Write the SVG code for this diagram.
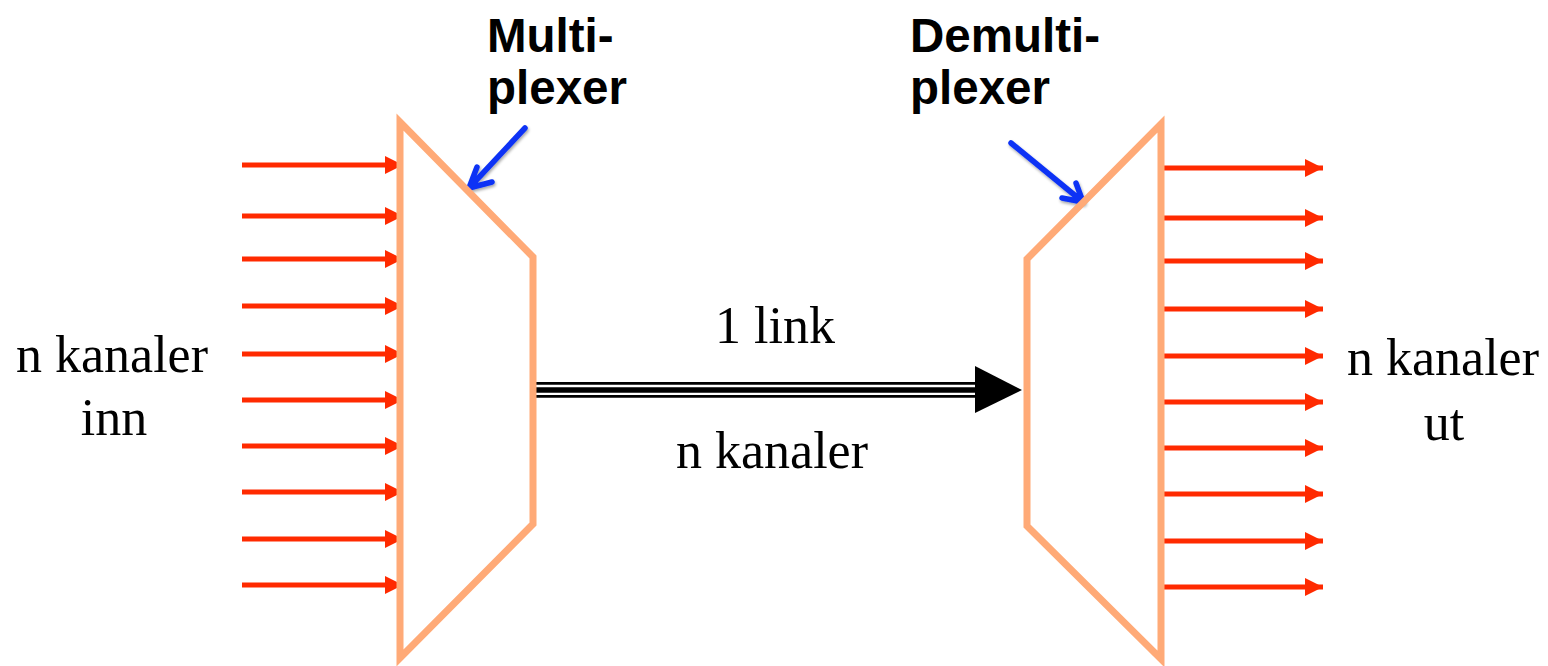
<svg xmlns="http://www.w3.org/2000/svg" width="1548" height="666" viewBox="0 0 1548 666">
<style>
.red{stroke:#FF2A00;stroke-width:5;fill:none}
.trap{stroke:#FFAA77;stroke-width:7;fill:none;stroke-linejoin:miter}
.blue{stroke:#0A32F5;stroke-width:5.5;fill:none;stroke-linecap:round;stroke-linejoin:round}
.serif{font-family:"Liberation Serif","Times New Roman",serif;font-size:52px;fill:#000}
.bold{font-family:"Liberation Sans",Arial,sans-serif;font-size:47.5px;font-weight:bold;fill:#000}
.link{stroke:#000;fill:none}
</style>
<defs>
<marker id="rh" markerUnits="userSpaceOnUse" markerWidth="20" markerHeight="20" refX="18" refY="10" orient="auto" viewBox="0 0 20 20">
<path d="M0,1 L18,10 L0,19 Z" fill="#FF2A00"/>
</marker>
<filter id="sh" x="-20%" y="-20%" width="140%" height="140%">
<feGaussianBlur in="SourceAlpha" stdDeviation="1.5"/>
<feOffset dx="1" dy="2" result="b"/>
<feComponentTransfer><feFuncA type="linear" slope="0.35"/></feComponentTransfer>
<feMerge><feMergeNode/><feMergeNode in="SourceGraphic"/></feMerge>
</filter>
</defs>
<rect width="1548" height="666" fill="#fff"/>

<g id="connectors">
<g id="inputs">
<line class="red" x1="242" y1="165" x2="403" y2="165" marker-end="url(#rh)"/>
<line class="red" x1="242" y1="216" x2="403" y2="216" marker-end="url(#rh)"/>
<line class="red" x1="242" y1="259" x2="403" y2="259" marker-end="url(#rh)"/>
<line class="red" x1="242" y1="306" x2="403" y2="306" marker-end="url(#rh)"/>
<line class="red" x1="242" y1="354" x2="403" y2="354" marker-end="url(#rh)"/>
<line class="red" x1="242" y1="400" x2="403" y2="400" marker-end="url(#rh)"/>
<line class="red" x1="242" y1="446" x2="403" y2="446" marker-end="url(#rh)"/>
<line class="red" x1="242" y1="492" x2="403" y2="492" marker-end="url(#rh)"/>
<line class="red" x1="242" y1="539" x2="403" y2="539" marker-end="url(#rh)"/>
<line class="red" x1="242" y1="585" x2="403" y2="585" marker-end="url(#rh)"/>
</g>
<g id="outputs">
<line class="red" x1="1161" y1="168" x2="1323" y2="168" marker-end="url(#rh)"/>
<line class="red" x1="1161" y1="218" x2="1323" y2="218" marker-end="url(#rh)"/>
<line class="red" x1="1161" y1="261" x2="1323" y2="261" marker-end="url(#rh)"/>
<line class="red" x1="1161" y1="309" x2="1323" y2="309" marker-end="url(#rh)"/>
<line class="red" x1="1161" y1="356" x2="1323" y2="356" marker-end="url(#rh)"/>
<line class="red" x1="1161" y1="402" x2="1323" y2="402" marker-end="url(#rh)"/>
<line class="red" x1="1161" y1="448" x2="1323" y2="448" marker-end="url(#rh)"/>
<line class="red" x1="1161" y1="494" x2="1323" y2="494" marker-end="url(#rh)"/>
<line class="red" x1="1161" y1="541" x2="1323" y2="541" marker-end="url(#rh)"/>
<line class="red" x1="1161" y1="587" x2="1323" y2="587" marker-end="url(#rh)"/>
</g>
<g id="link">
<line class="link" x1="533" y1="383.3" x2="978" y2="383.3" stroke-width="2.7"/>
<line class="link" x1="533" y1="390" x2="978" y2="390" stroke-width="5.3"/>
<line class="link" x1="533" y1="396.3" x2="978" y2="396.3" stroke-width="2.8"/>
<path d="M975,366 L1022,390 L975,413 Z" fill="#000"/>
</g>
<g id="callouts" filter="url(#sh)">
<path class="blue" d="M525,128 L469,188 M477,167 L469,188 L492,182"/>
<path class="blue" d="M1011,143 L1083,202 M1076,183 L1083,202 L1062,198"/>
</g>
</g>

<g id="multiplexer">
<path class="trap" d="M400,122 L533,257 L533,524 L400,658 Z"/>
</g>
<g id="demultiplexer">
<path class="trap" d="M1161,124 L1027,259 L1027,526 L1161,659 Z"/>
</g>

<g id="labels">
<text class="bold" x="487" y="52">Multi-</text>
<text class="bold" x="487" y="104">plexer</text>
<text class="bold" x="910" y="52">Demulti-</text>
<text class="bold" x="910" y="104">plexer</text>
<text class="serif" x="112" y="372" text-anchor="middle">n kanaler</text>
<text class="serif" x="114" y="435" text-anchor="middle">inn</text>
<text class="serif" x="775" y="343" text-anchor="middle">1 link</text>
<text class="serif" x="772" y="468" text-anchor="middle">n kanaler</text>
<text class="serif" x="1443" y="375" text-anchor="middle">n kanaler</text>
<text class="serif" x="1444" y="440" text-anchor="middle">ut</text>
</g>
</svg>
